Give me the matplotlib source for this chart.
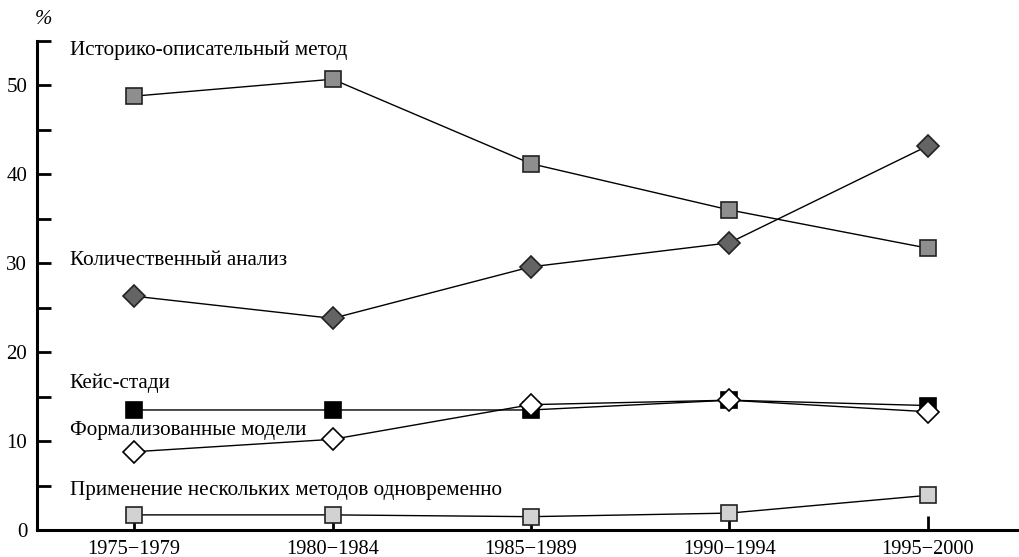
import numpy as np
import matplotlib.pyplot as plt

plt.rcParams['font.family'] = ['Liberation Serif', 'DejaVu Serif']

periods = ["1975\u22121979", "1980\u22121984", "1985\u22121989", "1990\u22121994", "1995\u22122000"]

historical = [48.8, 50.7, 41.2, 36.0, 31.7]
quantitative = [26.3, 23.8, 29.6, 32.3, 43.2]
case_study = [13.5, 13.5, 13.5, 14.6, 14.0]
formal_models = [8.8, 10.2, 14.1, 14.6, 13.3]
mixed_methods = [1.7, 1.7, 1.5, 1.9, 3.9]

series_names = [
    "Историко-описательный метод",
    "Количественный анализ",
    "Кейс-стади",
    "Формализованные модели",
    "Применение нескольких методов одновременно",
]
label_y = [54.0, 30.3, 16.5, 11.2, 4.4]

x = np.arange(len(periods))

fig = plt.figure(figsize=(10.19, 5.57), dpi=100)
ax = fig.add_axes([37 / 1019, 27 / 557, (1019 - 37) / 1019, (530 - 41) / 557])

ms = 11.5
ax.plot(x, historical, color="black", lw=1, marker="s", ms=ms, mfc="#8e8e8e", mec="#222222", mew=1.2)
ax.plot(x, quantitative, color="black", lw=1, marker="D", ms=ms, mfc="#646464", mec="#222222", mew=1.2)
ax.plot(x, case_study, color="black", lw=1, marker="s", ms=ms, mfc="black", mec="black", mew=1.2)
ax.plot(x, formal_models, color="black", lw=1, marker="D", ms=ms, mfc="white", mec="black", mew=1.2)
ax.plot(x, mixed_methods, color="black", lw=1, marker="s", ms=ms, mfc="#d2d2d2", mec="#222222", mew=1.2)

for name, yy in zip(series_names, label_y):
    ax.text(-0.325, yy, name, fontsize=15.2, ha="left", va="center")

ax.set_xlim(-0.49, 4.46)
ax.set_ylim(0, 55)
ax.set_xticks(x)
ax.set_xticklabels(periods, fontsize=14.7)
ax.set_yticks(np.arange(0, 55.1, 5))
ax.set_yticklabels(["0", "", "10", "", "20", "", "30", "", "40", "", "50", ""], fontsize=15)
ax.tick_params(axis="both", direction="in", length=10, width=2)
ax.tick_params(axis="y", pad=7)
ax.tick_params(axis="x", pad=7)

for side in ["top", "right"]:
    ax.spines[side].set_visible(False)
for side in ["left", "bottom"]:
    ax.spines[side].set_linewidth(2.2)

fig.text(35 / 1019, 1 - 20 / 557, "%", fontsize=15, style="italic", ha="left", va="center")

fig.savefig("out.png", dpi=100)
